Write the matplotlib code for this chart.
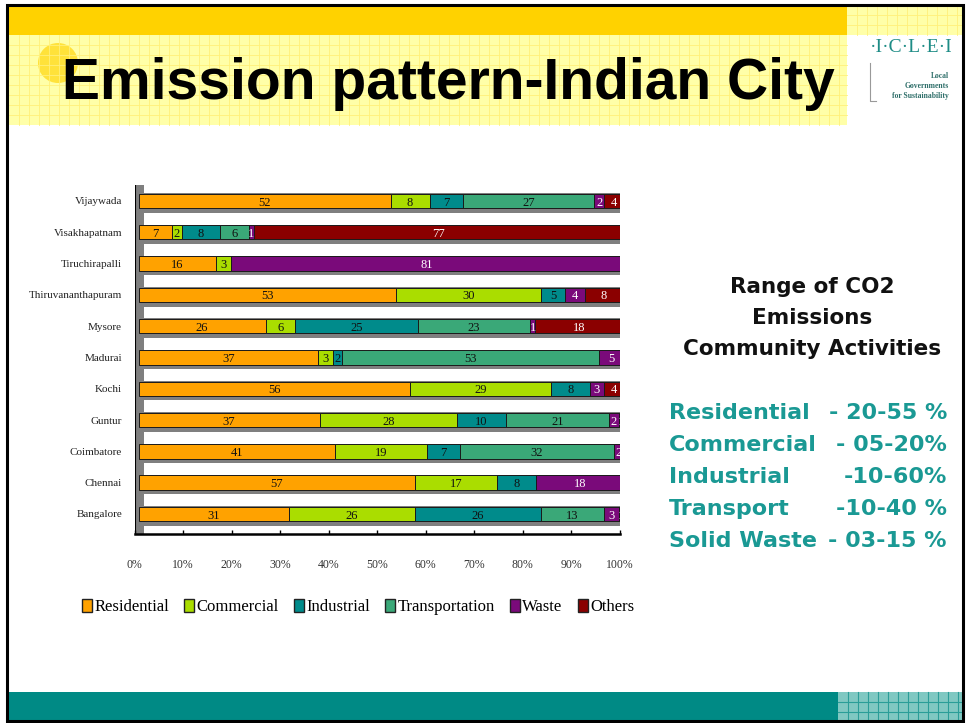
import matplotlib
matplotlib.use("Agg")
import matplotlib.pyplot as plt
import matplotlib.patches as mpatches
import matplotlib.transforms as mtrans
import numpy as np

# ---------------- data ----------------
cities = ["Bangalore", "Chennai", "Coimbatore", "Guntur", "Kochi", "Madurai",
          "Mysore", "Thiruvananthapuram", "Tiruchirapalli", "Visakhapatnam", "Vijaywada"]
categories = ["Residential", "Commercial", "Industrial", "Transportation", "Waste", "Others"]
residential    = [31, 57, 41, 37, 56, 37, 26, 53, 16, 7, 52]
commercial     = [26, 17, 19, 28, 29, 3, 6, 30, 3, 2, 8]
industrial     = [26, 8, 7, 10, 8, 2, 25, 5, 0, 8, 7]
transportation = [13, 0, 32, 21, 0, 53, 23, 0, 0, 6, 27]
waste          = [3, 18, 2, 2, 3, 5, 1, 4, 81, 1, 2]
others         = [1, 0, 0, 1, 4, 0, 18, 8, 0, 77, 4]
xticks = [0, 10, 20, 30, 40, 50, 60, 70, 80, 90, 100]
xtick_labels = ["0%", "10%", "20%", "30%", "40%", "50%", "60%", "70%", "80%", "90%", "100%"]

title = "Emission pattern-Indian City"
side_heading = ["Range of CO2", "Emissions", "Community Activities"]
range_names = ["Residential", "Commercial", "Industrial", "Transport", "Solid Waste"]
range_values = ["- 20-55 %", "- 05-20%", "-10-60%", "-10-40 %", "- 03-15 %"]

colors = ["#FFA200", "#AADD00", "#008B8B", "#3AA878", "#7A0A7A", "#8B0000"]
label_colors = ["#111111", "#111111", "#111111", "#111111", "white", "white"]

W, H = 969, 723
fig = plt.figure(figsize=(W / 100, H / 100), dpi=100)
fig.patch.set_facecolor("white")

# ---------------- slide background ----------------
bg = fig.add_axes([0, 0, 1, 1], zorder=0)
bg.set_xlim(0, W)
bg.set_ylim(H, 0)
bg.axis("off")

def rect(x0, y0, x1, y1, fc, z=1, **kw):
    bg.add_patch(mpatches.Rectangle((x0, y0), x1 - x0, y1 - y0, facecolor=fc,
                                    edgecolor="none", zorder=z, **kw))

def grid(x0, y0, x1, y1, color, step=10, lw=0.6, z=2):
    for gx in np.arange(x0 + step, x1, step):
        bg.plot([gx, gx], [y0, y1], color=color, lw=lw, zorder=z)
    for gy in np.arange(y0 + step, y1, step):
        bg.plot([x0, x1], [gy, gy], color=color, lw=lw, zorder=z)

rect(9, 5, 847, 35, "#FFD200")
rect(9, 35, 847, 125, "#FFFFA8")
rect(847, 5, 962, 35, "#FFFFA8")
bg.add_patch(mpatches.Circle((58, 63), 20, facecolor="#FFE23A", edgecolor="none", zorder=1.5))
grid(9, 35, 847, 125, "#FFF07A")
grid(847, 5, 962, 35, "#FFF07A")

rect(9, 692, 838, 720, "#008A85")
rect(838, 692, 962, 720, "#80C8C2")
grid(838, 692, 962, 720, "#2A9E98", step=10, lw=0.8)

bg.add_patch(mpatches.Rectangle((7, 5), 956, 716, facecolor="none",
                                edgecolor="black", lw=2.2, zorder=5))

# logo
bg.text(911, 48, "·I·C·L·E·I", fontsize=14, family="Liberation Serif",
        color="#1E8C86", ha="center", va="center", zorder=6)
for ty, tt in zip([76, 86, 96], ["Local", "Governments", "for Sustainability"]):
    bg.text(949, ty, tt, fontsize=5.5, family="Liberation Serif", weight="bold",
            color="#2F6F6A", ha="right", va="center", zorder=6)
bg.plot([870, 870, 876], [63, 101, 101], color="#999999", lw=0.8, zorder=6)

# title
bg.text(62, 84, title, fontsize=41, weight="bold", family="Liberation Sans",
        color="black", ha="left", va="center", zorder=6)

# right side text
for i, t in enumerate(side_heading):
    bg.text(812, 287 + 31 * i, t, fontsize=15.5, family="DejaVu Sans", weight="bold",
            color="#111111", ha="center", va="center", zorder=6)
for i, (n, v) in enumerate(zip(range_names, range_values)):
    yy = 413 + 32 * i
    bg.text(669, yy, n, fontsize=16, family="DejaVu Sans", weight="bold",
            color="#1A9994", ha="left", va="center", zorder=6)
    bg.text(947, yy, v, fontsize=16, family="DejaVu Sans", weight="bold",
            color="#1A9994", ha="right", va="center", zorder=6)

# ---------------- chart ----------------
ax_left, ax_right, ax_top, ax_bot = 134.5, 619.5, 185, 534
ax = fig.add_axes([ax_left / W, 1 - ax_bot / H, (ax_right - ax_left) / W,
                   (ax_bot - ax_top) / H], zorder=3)
ax.patch.set_alpha(0)

data = np.array([residential, commercial, industrial, transportation, waste, others], dtype=float)
totals = data.sum(axis=0)
pct = data / totals * 100
ypos = np.arange(len(cities))

front = mtrans.offset_copy(ax.transData, fig=fig, x=4, y=0, units="dots")
shadow = mtrans.offset_copy(ax.transData, fig=fig, x=5, y=-2, units="dots")

bar_h = 0.46
ax.barh(ypos, [100] * len(cities), height=0.62, left=0, color="#7F7F7F",
        edgecolor="none", transform=shadow, zorder=2)
left = np.zeros(len(cities))
for k in range(len(categories)):
    ax.barh(ypos, pct[k], height=bar_h, left=left, color=colors[k],
            edgecolor="#1A1A1A", linewidth=0.7, transform=front, zorder=3,
            label=categories[k])
    for j in range(len(cities)):
        if data[k, j] > 0:
            ax.text(left[j] + pct[k, j] / 2, ypos[j] - 0.05, f"{int(data[k, j])}",
                    transform=front, ha="center", va="center", fontsize=9,
                    family="Liberation Serif", color=label_colors[k], zorder=4)
    left += pct[k]

ax.set_xlim(0, 100)
ax.set_ylim(-0.64, 10.51)
ax.set_yticks(ypos)
ax.set_yticklabels(cities, family="Liberation Serif", fontsize=8, color="#222222")
ax.set_xticks(xticks)
ax.set_xticklabels(xtick_labels, family="Liberation Serif", fontsize=8.5, color="#333333")
ax.tick_params(axis="y", length=0, pad=9)
ax.tick_params(axis="x", direction="in", length=3, width=1, pad=18, color="black")
for s in ["top", "right"]:
    ax.spines[s].set_visible(False)
ax.spines["bottom"].set_linewidth(1.8)
ax.spines["left"].set_visible(False)

# left wall (3D depth)
ax.add_patch(mpatches.Rectangle((0, 0), 0.02, 1, transform=ax.transAxes,
                                facecolor="#7F7F7F", edgecolor="none", zorder=1))
ax.plot([0, 0], [0, 1], transform=ax.transAxes, color="black", lw=1.5, zorder=1.5)

# legend
handles = [mpatches.Patch(facecolor=c, edgecolor="#222222", linewidth=1) for c in colors]
fig.legend(handles, categories, loc="center", ncol=6,
           bbox_to_anchor=(358 / W, 1 - 607 / H), frameon=False,
           prop={"family": "Liberation Serif", "size": 12},
           handlelength=0.6, handleheight=0.8, handletextpad=0.15, columnspacing=0.9,
           borderpad=0)

fig.savefig("out.png", dpi=100)
